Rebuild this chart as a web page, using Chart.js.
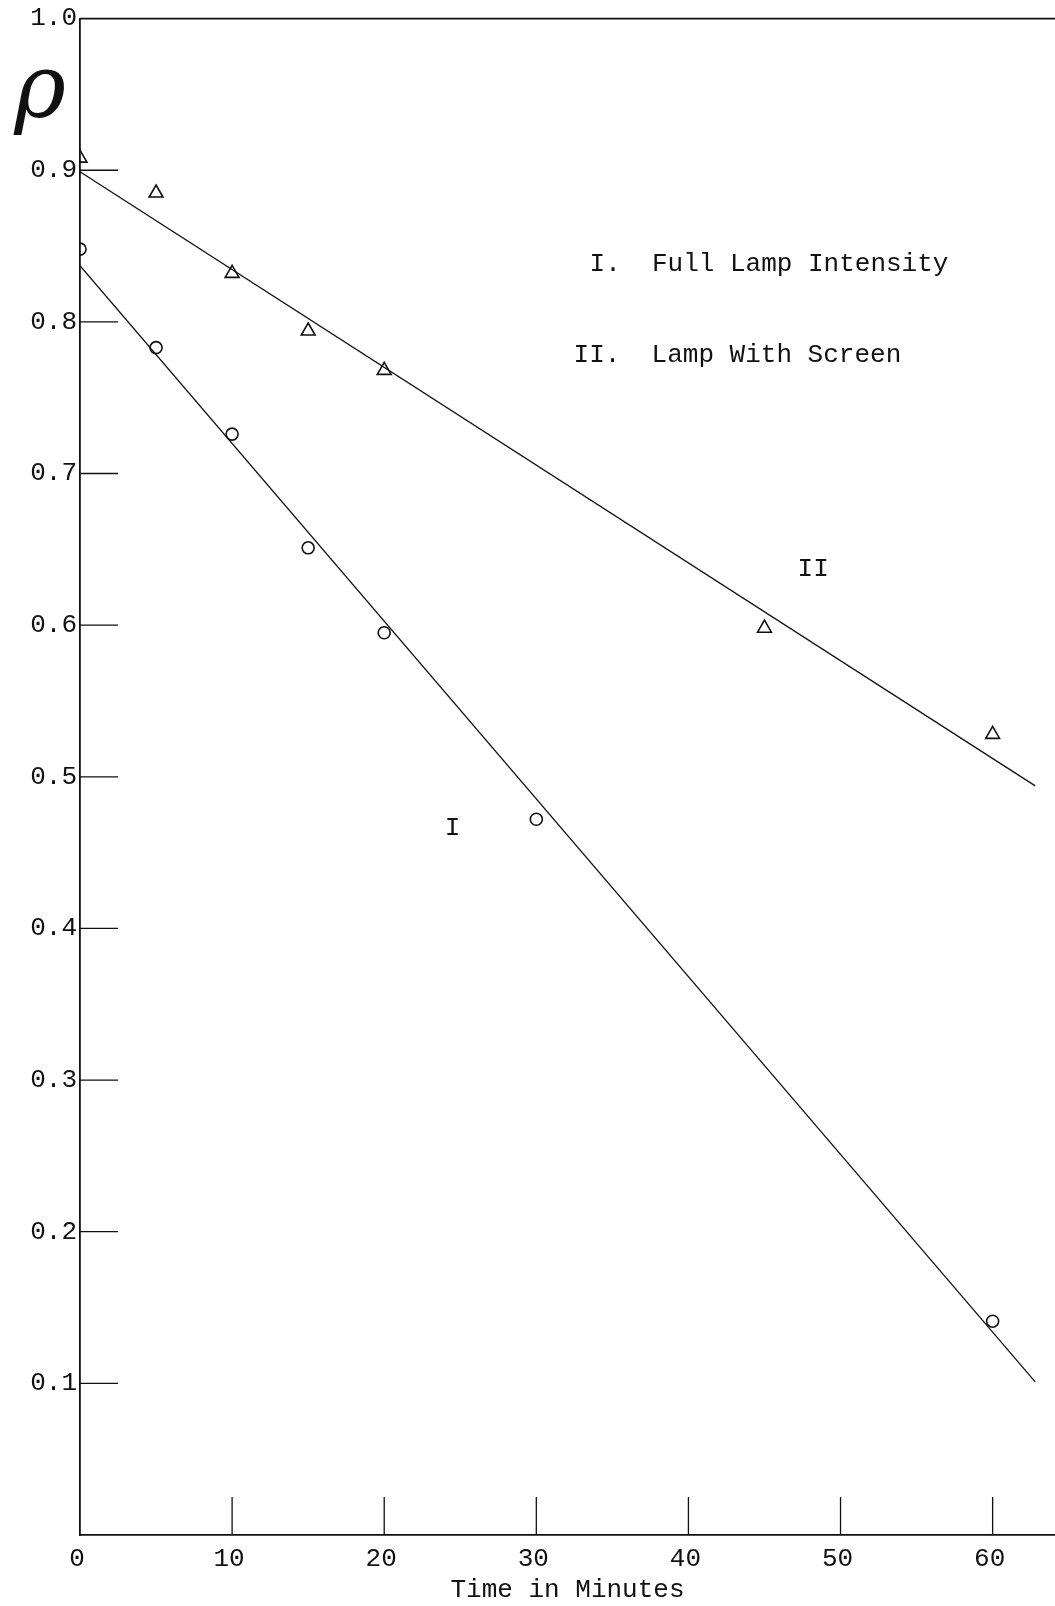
<!DOCTYPE html>
<html>
<head>
<meta charset="utf-8">
<script src="https://cdn.jsdelivr.net/npm/chart.js@4.4.1/dist/chart.umd.min.js"></script>
<style>
    body { margin: 0; background: #fff; }
    #wrap { width: 1055px; height: 1606px; }
    canvas { display: block; }
</style>
</head>
<body>
<div id="wrap"><canvas id="chart" width="1055" height="1606"></canvas></div>
<script>
// measured points
const timesI = [0, 5, 10, 15, 20, 30, 60];
const rhoI = [0.848, 0.783, 0.726, 0.651, 0.595, 0.472, 0.141];
const timesII = [0, 5, 10, 15, 20, 45, 60];
const rhoII = [0.908, 0.885, 0.832, 0.794, 0.768, 0.598, 0.528];

// hand drawn straight lines (end points)
const fitTimes = [0, 62.8];
const fitI = [0.837, 0.101];
const fitII = [0.899, 0.494];

const xTicks = [0, 10, 20, 30, 40, 50, 60];
const yTicks = [0.1, 0.2, 0.3, 0.4, 0.5, 0.6, 0.7, 0.8, 0.9, 1.0];

const legendLines = ['I.  Full Lamp Intensity', 'II.  Lamp With Screen'];
const curveNames = ['I', 'II'];
const axisTitle = 'Time in Minutes';

const typeFont = "'Liberation Mono', 'Courier New', monospace";
const ink = '#111';

function toPoints(xs, ys) {
    return xs.map((t, i) => ({ x: t, y: ys[i] }));
}

// tick marks drawn inside the frame, top border, and the typed notes
const paperMarks = {
    id: 'paperMarks',
    afterDraw(chart) {
        const { ctx, chartArea, scales } = chart;
        const x = scales.x, y = scales.y;
        ctx.save();
        ctx.strokeStyle = ink;
        ctx.lineWidth = 1.6;
        ctx.beginPath();
        ctx.moveTo(chartArea.left, chartArea.top);
        ctx.lineTo(chartArea.right, chartArea.top);
        ctx.stroke();

        ctx.lineWidth = 1.3;
        ctx.beginPath();
        x.ticks.forEach(t => {
            if (t.value === 0) return;
            const px = x.getPixelForValue(t.value);
            ctx.moveTo(px, chartArea.bottom);
            ctx.lineTo(px, chartArea.bottom - 38);
        });
        y.ticks.forEach(t => {
            if (t.value >= 1) return;
            const py = y.getPixelForValue(t.value);
            ctx.moveTo(chartArea.left, py);
            ctx.lineTo(chartArea.left + 38, py);
        });
        ctx.stroke();

        ctx.fillStyle = ink;
        ctx.textBaseline = 'middle';
        ctx.font = '26px ' + typeFont;
        ctx.textAlign = 'left';
        ctx.fillText(legendLines[0], x.getPixelForValue(33.5), y.getPixelForValue(0.838));
        ctx.fillText(legendLines[1], x.getPixelForValue(32.45), y.getPixelForValue(0.778));

        ctx.textAlign = 'center';
        ctx.fillText(curveNames[0], x.getPixelForValue(24.5), y.getPixelForValue(0.466));
        ctx.fillText(curveNames[1], x.getPixelForValue(48.2), y.getPixelForValue(0.637));

        // rho symbol beside the y axis
        ctx.font = 'italic 88px "DejaVu Serif", serif';
        ctx.fillText('\u03C1', chartArea.left - 40, y.getPixelForValue(0.95));
        ctx.restore();
    }
};

const ctx = document.getElementById('chart').getContext('2d');

new Chart(ctx, {
    type: 'scatter',
    data: {
        datasets: [
            {
                label: 'I fit',
                data: toPoints(fitTimes, fitI),
                showLine: true,
                borderColor: ink,
                borderWidth: 1.3,
                pointRadius: 0
            },
            {
                label: 'II fit',
                data: toPoints(fitTimes, fitII),
                showLine: true,
                borderColor: ink,
                borderWidth: 1.3,
                pointRadius: 0
            },
            {
                label: 'I',
                data: toPoints(timesI, rhoI),
                pointStyle: 'circle',
                pointRadius: 6,
                borderColor: ink,
                borderWidth: 1.6,
                backgroundColor: 'rgba(0,0,0,0)',
                clip: 0
            },
            {
                label: 'II',
                data: toPoints(timesII, rhoII),
                pointStyle: 'triangle',
                pointRadius: 8,
                borderColor: ink,
                borderWidth: 1.6,
                backgroundColor: 'rgba(0,0,0,0)',
                clip: 0
            }
        ]
    },
    options: {
        responsive: false,
        animation: false,
        layout: { autoPadding: false, padding: { top: 16, left: 0, right: 0, bottom: 0 } },
        plugins: {
            legend: { display: false },
            tooltip: { enabled: false }
        },
        scales: {
            x: {
                type: 'linear',
                min: 0,
                max: 64.1,
                afterBuildTicks: s => { s.ticks = xTicks.map(v => ({ value: v })); },
                afterFit: s => { s.height = 71; },
                grid: { display: false, drawTicks: false },
                border: { display: true, color: ink, width: 1.8 },
                ticks: {
                    color: ink,
                    font: { family: typeFont, size: 26 },
                    padding: 9,
                    labelOffset: -3,
                    maxRotation: 0
                },
                title: {
                    display: true,
                    text: axisTitle,
                    color: ink,
                    font: { family: typeFont, size: 26 },
                    padding: { top: 0, bottom: 0 }
                }
            },
            y: {
                type: 'linear',
                min: 0,
                max: 1,
                afterBuildTicks: s => { s.ticks = yTicks.map(v => ({ value: v })); },
                afterFit: s => { s.width = 80; },
                grid: { display: false, drawTicks: false },
                border: { display: true, color: ink, width: 1.8 },
                ticks: {
                    color: ink,
                    font: { family: typeFont, size: 26 },
                    padding: 3,
                    callback: v => v.toFixed(1)
                }
            }
        }
    },
    plugins: [paperMarks]
});
</script>
</body>
</html>
